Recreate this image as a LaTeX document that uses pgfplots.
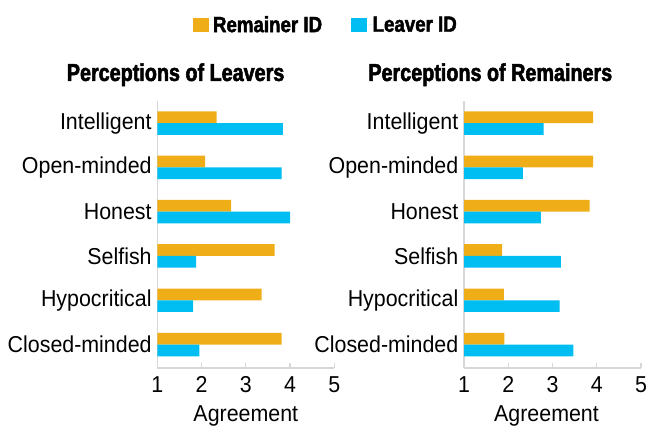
\documentclass[border=0pt]{standalone}
\usepackage{fontspec}
\usepackage{pgfplots}
\pgfplotsset{compat=1.18}
\setmainfont[FakeStretch=0.93]{Liberation Sans}
\newfontfamily\heavyfont[FakeStretch=0.81,BoldFeatures={FakeBold=2.2}]{Liberation Sans}
\newfontfamily\legfont[FakeStretch=0.85,BoldFeatures={FakeBold=2.0}]{Liberation Sans}
\newcommand{\lab}{\fontsize{23bp}{26bp}\selectfont}
\newcommand{\ttl}{\heavyfont\bfseries\fontsize{24.4bp}{28bp}\selectfont}
\newcommand{\leg}{\legfont\bfseries\fontsize{22bp}{26bp}\selectfont}
\definecolor{remorange}{RGB}{239,174,23}
\definecolor{leavblue}{RGB}{0,189,242}
\definecolor{axgray}{RGB}{215,215,215}
\pgfplotstableread{
y  rem   leav
0  3.81  1.95
1  3.36  1.81
2  3.65  1.88
3  2.67  4.00
4  2.08  3.81
5  2.34  3.84
}\leavers
\pgfplotstableread{
y  rem   leav
0  1.91  3.47
1  1.90  3.16
2  1.86  3.19
3  3.84  2.74
4  3.92  2.33
5  3.92  2.80
}\remainers
\begin{document}
\begin{tikzpicture}
\path[use as bounding box] (0,0) rectangle (651bp,430bp);
\pgfplotsset{
  panel/.style={
    xbar, scale only axis, width=177bp, height=267bp,
    xmin=1, xmax=5, ymin=-0.53, ymax=5.5,
    clip mode=individual,
    xtick={1,2,3,4,5}, ytick={0,1,2,3,4,5},
    yticklabels={Closed-minded,Hypocritical,Selfish,Honest,Open-minded,Intelligent},
    axis x line*=bottom, axis y line*=left,
    axis line style={draw=axgray, line width=1.3bp},
    tick align=inside, major tick length=4.5bp,
    xtick style={draw=axgray, line width=1.3bp},
    ytick style={draw=none},
    tick label style={font=\lab, inner sep=0pt},
    yticklabel style={xshift=-5.5bp},
    xticklabel style={yshift=-8.7bp},
    /pgf/number format/assume math mode=true,
    xlabel={Agreement},
    xlabel style={font=\lab, inner sep=0pt, at={(axis description cs:0.5,0)}, anchor=base, yshift=-53.7bp},
    bar width=0.265,
  },
}
\begin{axis}[panel, at={(157.3bp,62bp)}, anchor=south west,
  legend columns=2,
  legend style={draw=none, fill=none, inner sep=0pt, outer sep=0pt,
    at={(axis description cs:0.2,1.285)}, anchor=west, font=\leg,
    nodes={inner sep=0pt},
    /tikz/every even column/.append style={column sep=29bp}},
  ]
\addplot[fill=remorange, draw=none, bar shift=0.1325,
  legend image code/.code={\fill[remorange] (0bp,-6.7bp) rectangle (16.3bp,6.7bp); \path (0bp,0bp) -- (20.3bp,0bp);}]
  table[x=rem, y=y] {\leavers};
\addlegendentry{Remainer ID}
\addplot[fill=leavblue, draw=none, bar shift=-0.1325,
  legend image code/.code={\fill[leavblue] (0bp,-6.7bp) rectangle (16.3bp,6.7bp); \path (0bp,0bp) -- (21.5bp,0bp);}]
  table[x=leav, y=y] {\leavers};
\addlegendentry{Leaver ID}
\node[font=\ttl, anchor=base, inner sep=0pt] at (axis description cs:0.1034,1.075) {Perceptions of Leavers};
\end{axis}
\begin{axis}[panel, at={(464bp,62bp)}, anchor=south west,
  xlabel style={xshift=-6bp}]
\addplot[fill=remorange, draw=none, bar shift=0.1325] table[x=rem, y=y] {\remainers};
\addplot[fill=leavblue, draw=none, bar shift=-0.1325] table[x=leav, y=y] {\remainers};
\node[font=\ttl, anchor=base, inner sep=0pt] at (axis description cs:0.1486,1.075) {Perceptions of Remainers};
\end{axis}
\end{tikzpicture}
\end{document}
